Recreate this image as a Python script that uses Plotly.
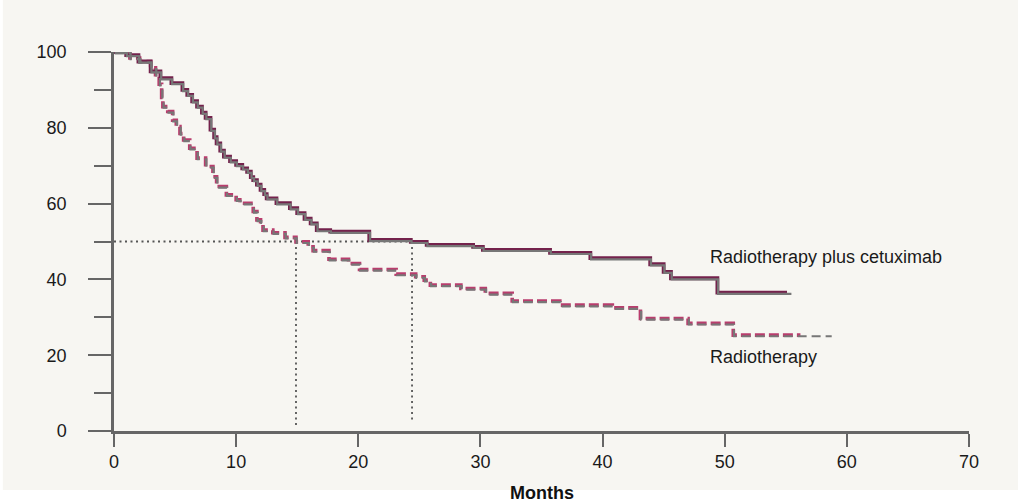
import plotly.graph_objects as go

# ---- data ----
cetux_t = [0, 1.0, 2.0, 3.0, 3.8, 4.7, 5.6, 6.0, 6.4, 6.8, 7.2, 7.5, 7.9, 8.2, 8.4, 8.7,
           9.0, 9.5, 10.0, 10.5, 10.9, 11.2, 11.4, 11.7, 12.0, 12.3, 12.5, 13.3, 14.4,
           15.0, 15.6, 16.1, 16.6, 17.7, 20.9, 24.3, 25.6, 29.4, 30.2, 35.7, 39.0, 43.9,
           45.0, 45.6, 49.4, 55.4]
cetux_s = [100, 99.2, 97.5, 94.9, 93.1, 91.8, 90.0, 88.7, 87.0, 85.6, 84.0, 82.6, 79.5,
           77.5, 75.9, 74.0, 72.4, 71.2, 70.2, 69.3, 68.4, 67.0, 66.2, 65.0, 63.6, 62.5,
           61.4, 60.1, 58.8, 57.5, 56.0, 54.8, 53.0, 52.6, 50.4, 49.9, 49.1, 48.6, 47.8,
           47.0, 45.6, 44.0, 42.0, 40.3, 36.5, 36.5]
cetux_overlay_end = 55.1

radio_t = [0, 1.3, 2.1, 3.0, 3.4, 3.7, 3.9, 4.0, 4.4, 4.8, 5.1, 5.4, 5.7, 6.2, 6.8, 7.5,
           8.1, 8.4, 9.2, 10.0, 10.3, 11.4, 11.7, 12.0, 12.2, 13.0, 14.0, 14.9, 15.9,
           16.3, 17.6, 19.2, 20.1, 23.1, 24.7, 25.4, 25.9, 28.4, 30.4, 32.6, 36.5, 40.8,
           43.1, 47.0, 50.7, 58.7]
radio_s = [100, 98.4, 97.5, 95.8, 93.5, 91.5, 88.0, 85.6, 84.3, 82.0, 80.3, 78.5, 76.8,
           74.6, 72.0, 69.8, 67.1, 64.5, 62.3, 61.0, 60.1, 57.9, 55.7, 55.2, 53.0, 52.3,
           51.1, 49.9, 48.6, 47.6, 45.3, 44.2, 42.6, 41.4, 40.7, 39.8, 38.5, 37.6, 36.3,
           34.3, 33.2, 32.5, 29.7, 28.4, 25.3, 25.3]
radio_overlay_end = 56.2

median_level = 50
median_times = [14.9, 24.4]
median_bottoms = [1.0, 2.8]

x_ticks = [0, 10, 20, 30, 40, 50, 60, 70]
y_ticks = [0, 20, 40, 60, 80, 100]
y_minor_ticks = [10, 30, 50, 70, 90]

label_cetux = "Radiotherapy plus cetuximab"
label_radio = "Radiotherapy"
x_title = "Months"


def clip(ts, ss, end):
    out_t, out_s = [], []
    for t, s in zip(ts, ss):
        if t < end:
            out_t.append(t)
            out_s.append(s)
    out_t.append(end)
    out_s.append(out_s[-1])
    return out_t, out_s


AX = "#666666"
SHADOW = "#777777"
C_SOLID = "#74224c"
C_DASH = "#b93d6d"
FONT = "Liberation Sans, Arial, sans-serif"
FS = 18

fig = go.Figure()

# grey shadow curves (on slightly offset overlay axes)
fig.add_trace(go.Scatter(x=cetux_t, y=cetux_s, mode="lines", line_shape="hv",
                         line=dict(color=SHADOW, width=2.2), xaxis="x2", yaxis="y2",
                         cliponaxis=False, hoverinfo="skip", showlegend=False))
fig.add_trace(go.Scatter(x=radio_t, y=radio_s, mode="lines", line_shape="hv",
                         line=dict(color=SHADOW, width=2.2, dash="9px,5px"),
                         xaxis="x2", yaxis="y2",
                         cliponaxis=False, hoverinfo="skip", showlegend=False))

# median dotted guides
fig.add_trace(go.Scatter(x=[0, median_times[1]], y=[median_level, median_level],
                         mode="lines", line=dict(color="#555555", width=1.8, dash="2px,3.5px"),
                         hoverinfo="skip", showlegend=False))
for mt, mb in zip(median_times, median_bottoms):
    fig.add_trace(go.Scatter(x=[mt, mt], y=[median_level, mb], mode="lines",
                             line=dict(color="#555555", width=1.8, dash="2px,3.5px"),
                             hoverinfo="skip", showlegend=False))

ct, cs = clip(cetux_t, cetux_s, cetux_overlay_end)
rt, rs = clip(radio_t, radio_s, radio_overlay_end)
fig.add_trace(go.Scatter(x=rt, y=rs, mode="lines", line_shape="hv",
                         line=dict(color=C_DASH, width=3.6, dash="10px,4px"),
                         cliponaxis=False, name=label_radio, showlegend=False))
fig.add_trace(go.Scatter(x=ct, y=cs, mode="lines", line_shape="hv",
                         line=dict(color=C_SOLID, width=3.8),
                         cliponaxis=False, name=label_cetux, showlegend=False))

# background panel
fig.add_shape(type="rect", xref="paper", yref="paper",
              x0=-0.13, x1=1.06, y0=-0.1557, y1=1.14,
              fillcolor="#f7f6f2", line_width=0, layer="below")

fig.add_annotation(x=48.6, y=46.0, text=label_cetux, showarrow=False,
                   xanchor="left", yanchor="middle",
                   font=dict(family=FONT, size=FS, color="#1a1a1a"))
fig.add_annotation(x=48.6, y=19.5, text=label_radio, showarrow=False,
                   xanchor="left", yanchor="middle",
                   font=dict(family=FONT, size=FS, color="#1a1a1a"))
fig.add_annotation(x=35, xref="x", y=-0.163, yref="paper", text="<b>" + x_title + "</b>",
                   showarrow=False, xanchor="center", yanchor="middle",
                   font=dict(family=FONT, size=FS, color="#111111"))

fig.update_layout(
    width=1018, height=502,
    margin=dict(l=114, r=49, t=52, b=71),
    paper_bgcolor="white",
    plot_bgcolor="rgba(0,0,0,0)",
    font=dict(family=FONT, size=FS, color="#1a1a1a"),
    showlegend=False,
    xaxis=dict(range=[0, 70], tickvals=x_ticks, ticks="outside", ticklen=13,
               tickwidth=2, tickcolor=AX, showline=True, linecolor=AX, linewidth=2.5,
               showgrid=False, zeroline=False, tickfont=dict(size=FS, color="#1a1a1a")),
    yaxis=dict(range=[0, 100], tickvals=y_ticks, ticks="outside", ticklen=23,
               tickwidth=2, tickcolor=AX, showline=True, linecolor=AX, linewidth=2.5,
               showgrid=False, zeroline=False, tickfont=dict(size=FS, color="#1a1a1a"),
               ticklabelstandoff=18,
               minor=dict(tickvals=y_minor_ticks, ticks="outside", ticklen=17,
                          tickwidth=2, tickcolor=AX)),
    xaxis2=dict(range=[-0.06, 69.94], overlaying="x", visible=False),
    yaxis2=dict(range=[0.3, 100.3], overlaying="y", visible=False),
)

fig.write_html("out.html", config={"displayModeBar": False},
               post_script="document.body.style.margin='0';")
